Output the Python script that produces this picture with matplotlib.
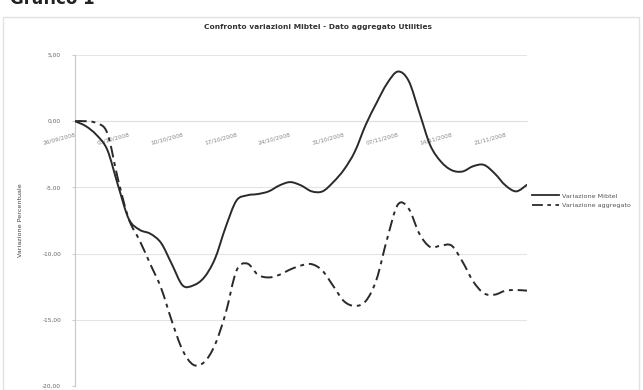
import matplotlib
matplotlib.use("Agg")
import matplotlib.pyplot as plt
from matplotlib.patches import Rectangle, PathPatch
from matplotlib.path import Path
from matplotlib.lines import Line2D
from matplotlib.ticker import FuncFormatter, MultipleLocator

# Category labels shown every fifth observation
date_labels = ["26/09/2008", "03/10/2008", "10/10/2008", "17/10/2008", "24/10/2008",
               "31/10/2008", "07/11/2008", "14/11/2008", "21/11/2008"]

# Percentage variation, Mibtel index
mibtel = [0.0, -0.37, -1.04, -2.16, -4.85, -7.39, -8.2, -8.5, -9.2, -10.8,
          -12.4, -12.4, -11.8, -10.4, -8.0, -6.0, -5.6, -5.5, -5.3, -4.85,
          -4.6, -4.85, -5.3, -5.3, -4.6, -3.65, -2.3, -0.3, 1.35, 2.85,
          3.75, 3.05, 0.65, -1.8, -3.05, -3.7, -3.8, -3.4, -3.3, -3.95,
          -4.85, -5.3, -4.8]

# Percentage variation, Utilities aggregate
aggregato = [0.0, 0.0, -0.15, -0.9, -4.4, -7.4, -9.0, -10.8, -12.6, -15.1,
             -17.3, -18.4, -18.2, -16.9, -14.5, -11.3, -10.75, -11.6, -11.8, -11.6,
             -11.2, -10.9, -10.8, -11.3, -12.45, -13.6, -13.95, -13.6, -12.0, -8.9,
             -6.3, -6.6, -8.5, -9.5, -9.4, -9.4, -10.6, -12.1, -13.0, -13.1,
             -12.8, -12.75, -12.8]

series_names = ["Variazione Mibtel", "Variazione aggregato"]
y_label = "Variazione Percentuale"
title = "Confronto variazioni Mibtel - Dato aggregato Utilities"


def smooth_path(xs, ys):
    """Cubic Bezier path through every point (smoothed-line style)."""
    pts = list(zip(xs, ys))
    n = len(pts)
    verts = [pts[0]]
    codes = [Path.MOVETO]
    for i in range(n - 1):
        p0 = pts[i - 1] if i > 0 else pts[i]
        p1 = pts[i]
        p2 = pts[i + 1]
        p3 = pts[i + 2] if i + 2 < n else pts[i + 1]
        c1 = (p1[0] + (p2[0] - p0[0]) / 6, p1[1] + (p2[1] - p0[1]) / 6)
        c2 = (p2[0] - (p3[0] - p1[0]) / 6, p2[1] - (p3[1] - p1[1]) / 6)
        verts += [c1, c2, p2]
        codes += [Path.CURVE4] * 3
    return Path(verts, codes)


W, H = 643, 390
fig = plt.figure(figsize=(W / 100, H / 100), dpi=100)
fig.patch.set_facecolor("white")

# Chart area frame
fig.patches.append(Rectangle((3 / W, 0), 636 / W, (H - 17) / H, transform=fig.transFigure,
                             fill=False, edgecolor="#e2e2e2", linewidth=1.0))

fig.text(10 / W, 1.0 + 1 / H, "Grafico 1", fontsize=12, fontweight="bold",
         ha="left", va="center", color="#222222")
fig.text(318 / W, 1 - 27 / H, title, fontsize=5.4, fontweight="bold",
         ha="center", va="center", color="#333333")

ax = fig.add_axes([75 / W, 4 / H, 452 / W, 331 / H])
ax.set_facecolor("white")

for side in ("top", "right"):
    ax.spines[side].set_visible(False)
ax.spines["left"].set_color("#c8c8c8")
ax.spines["bottom"].set_position(("data", 0))
ax.spines["bottom"].set_color("#e0e0e0")
ax.spines["bottom"].set_linewidth(0.8)

x = list(range(len(mibtel)))
line_color = "#2a2a2a"
dash_style = (0, (6, 2.5, 2, 2.5))

ax.add_patch(PathPatch(smooth_path(x, mibtel), fill=False, edgecolor=line_color,
                       linewidth=1.4, capstyle="round", zorder=3))
ax.add_patch(PathPatch(smooth_path(x, aggregato), fill=False, edgecolor=line_color,
                       linewidth=1.4, linestyle=dash_style, zorder=3))

ax.set_xlim(0, len(mibtel) - 1)
ax.set_ylim(-20, 5)

ax.yaxis.set_major_locator(MultipleLocator(5))
ax.yaxis.set_major_formatter(FuncFormatter(lambda v, p: f"{v:.2f}".replace(".", ",")))
ax.grid(axis="y", color="#e4e4e4", linewidth=0.8)
ax.set_axisbelow(True)

ax.set_xticks(list(range(0, len(mibtel), 5)))
ax.set_xticklabels(date_labels, rotation=15, ha="right", va="top",
                   rotation_mode="anchor", fontsize=4.2, color="#888888")
ax.tick_params(axis="x", length=0, pad=8)
ax.tick_params(axis="y", length=2, pad=8, labelsize=4.2, labelcolor="#666666",
               color="#cccccc")

ax.set_ylabel(y_label, fontsize=4.6, color="#444444", labelpad=14)

handles = [Line2D([], [], color=line_color, linewidth=1.3),
           Line2D([], [], color=line_color, linewidth=1.3, linestyle=dash_style)]
ax.legend(handles, series_names, loc="center left", bbox_to_anchor=(1.0, 0.56),
          frameon=False, fontsize=4.6, handlelength=4.2, labelcolor="#555555",
          borderaxespad=0.4, handletextpad=0.5, labelspacing=0.6)

fig.savefig("out.png", dpi=100, facecolor="white")
